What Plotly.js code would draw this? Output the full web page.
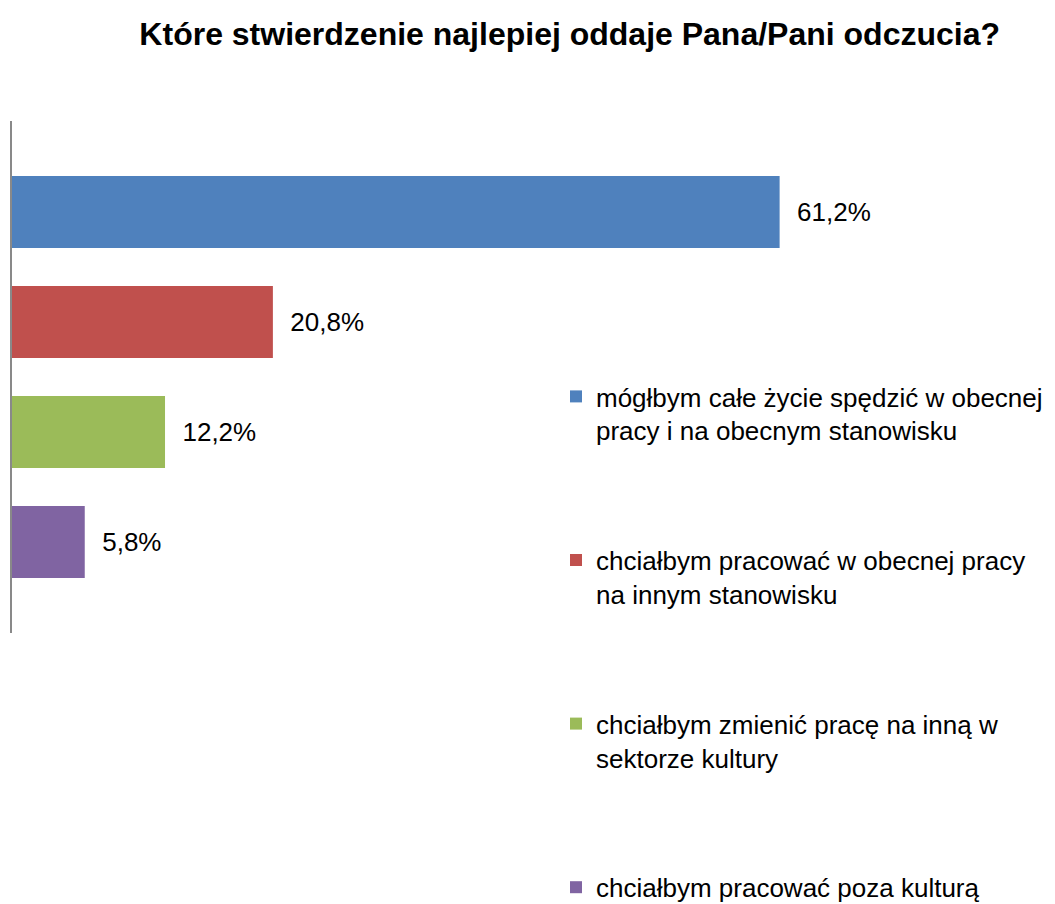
<!DOCTYPE html>
<html><head><meta charset="utf-8">
<script src="https://cdn.plot.ly/plotly-3.0.1.min.js"></script>
<style>html,body{margin:0;padding:0;background:#fff;}#chart{width:1055px;height:904px;}</style>
</head><body><div id="chart"></div>
<script>
var seriesNames = [
  "mógłbym całe życie spędzić w obecnej<br>pracy i na obecnym stanowisku",
  "chciałbym pracować w obecnej pracy<br>na innym stanowisku",
  "chciałbym zmienić pracę na inną w<br>sektorze kultury",
  "chciałbym pracować poza kulturą"
];
var values = [61.2, 20.8, 12.2, 5.8];
var colors = ["#4F81BD", "#C0504D", "#9BBB59", "#8064A2"];
var category = [""];

var traces = [];
for (var i = values.length - 1; i >= 0; i--) {
  traces.push({
    type: "bar",
    orientation: "h",
    name: seriesNames[i],
    y: category,
    x: [values[i]],
    marker: {color: colors[i]},
    texttemplate: "\u00a0\u00a0%{x:.1f}%",
    textposition: "outside",
    textfont: {family: "Liberation Sans, Arial, sans-serif", size: 26, color: "#000"},
    cliponaxis: false,
    constraintext: "none",
    legendgroup: "g" + i,
    legendrank: i + 1,
    hoverinfo: "skip"
  });
}

var layout = {
  width: 1055, height: 904,
  separators: ", ",
  paper_bgcolor: "#fff", plot_bgcolor: "#fff",
  font: {family: "Liberation Sans, Arial, sans-serif", size: 26, color: "#000"},
  title: {text: "<b>Które stwierdzenie najlepiej oddaje Pana/Pani odczucia?</b>",
          font: {size: 32, color: "#000"}, x: 0.54, xanchor: "center", y: 0.963, yanchor: "middle"},
  margin: {l: 12, r: 165, t: 121, b: 0, autoexpand: false},
  barmode: "group",
  bargap: 0.141,
  bargroupgap: 0.345,
  xaxis: {range: [0, 70], showgrid: false, zeroline: false, showline: false, showticklabels: false, ticks: ""},
  yaxis: {domain: [271/783, 1], showgrid: false, zeroline: false, showline: true, linecolor: "#898989", linewidth: 2,
          showticklabels: false, ticks: "", range: [-0.5, 0.5]},
  showlegend: true,
  legend: {xref: "paper", yref: "paper", x: (556 - 12)/878, y: (904 - 373)/783, xanchor: "left", yanchor: "top",
           traceorder: "grouped", tracegroupgap: 93, valign: "top",
           font: {size: 26, color: "#000"}, bgcolor: "rgba(0,0,0,0)"}
};
Plotly.newPlot("chart", traces, layout, {displayModeBar: false, staticPlot: true});
</script>
</body></html>
